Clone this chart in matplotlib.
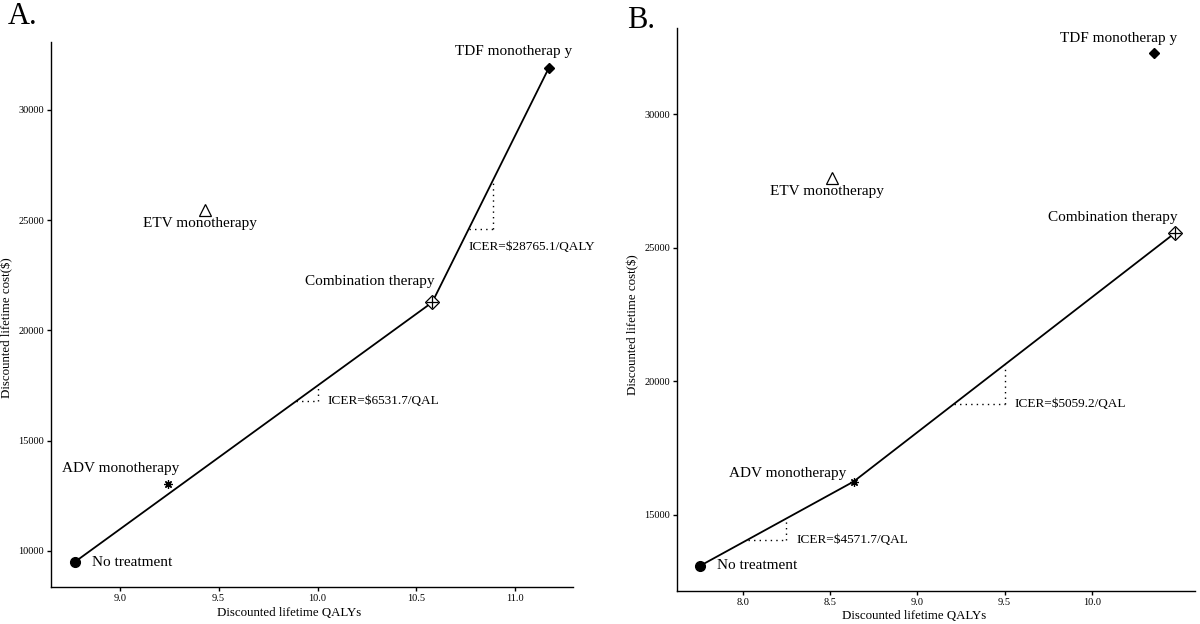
import numpy as np
import matplotlib
matplotlib.use("Agg")
import matplotlib.pyplot as plt

plt.rcParams['font.family'] = ['Liberation Serif', 'DejaVu Serif']

# strategy order: No treatment, ADV, ETV, Combination, TDF
names = ["No treatment", "ADV monotherapy", "ETV monotherapy",
         "Combination therapy", "TDF monotherap y"]

qaly_a = [8.772, 9.244, 9.429, 10.580, 11.170]
cost_a = [9500, 13050, 25450, 21270, 31900]
qaly_b = [7.757, 8.635, 8.511, 10.476, 10.354]
cost_b = [13100, 16250, 27620, 25560, 32290]

# points on the efficiency frontier (indices)
front_a = [0, 3, 4]
front_b = [0, 1, 3]

# ICER triangles: (x start, x end, label)
icer_a = [(9.893, 10.0, "ICER=$6531.7/QAL"), (10.764, 10.887, "ICER=$28765.1/QALY")]
icer_b = [(8.03, 8.25, "ICER=$4571.7/QAL"), (9.21, 9.5, "ICER=$5059.2/QAL")]

# label offsets in pixels (dx, dy, ha)
offs_a = [(17, 0, 'left'), (-47, 15, 'center'), (-5, -13, 'center'),
          (-62, 21, 'center'), (-35, 16, 'center')]
offs_b = [(17, 0, 'left'), (-66, 8, 'center'), (-5, -14, 'center'),
          (-62, 15, 'center'), (-35, 15, 'center')]


def draw_markers(ax, xs, ys):
    ax.plot(xs[0], ys[0], 'o', color='black', ms=7, zorder=4)
    ax.plot(xs[1], ys[1], marker=(8, 2, 0), color='black', ms=6, mew=0.9, ls='none', zorder=4)
    ax.plot(xs[2], ys[2], '^', mfc='none', mec='black', ms=8, mew=0.9, zorder=4)
    ax.plot(xs[3], ys[3], 'D', mfc='white', mec='black', ms=7, mew=0.9, zorder=4)
    ax.plot(xs[3], ys[3], '+', color='black', ms=9, mew=0.9, zorder=5)
    ax.plot(xs[4], ys[4], 'D', color='black', ms=5, zorder=4)


def panel(ax, xs, ys, front, icers, offs, xlim, ylim, xticks, yticks, icer_pos):
    fx = [xs[i] for i in front]
    fy = [ys[i] for i in front]
    ax.plot(fx, fy, color='black', lw=1.3, zorder=3)
    draw_markers(ax, xs, ys)
    for i, name in enumerate(names):
        dx, dy, ha = offs[i]
        ax.annotate(name, (xs[i], ys[i]), xytext=(dx * 0.72, dy * 0.72),
                    textcoords='offset points', ha=ha, va='center', fontsize=11)
    for k, (x0, x1, lab) in enumerate(icers):
        y0 = np.interp(x0, fx, fy)
        y1 = np.interp(x1, fx, fy)
        ax.plot([x0, x1], [y0, y0], color='black', ls=(0, (1, 3)), lw=1)
        ax.plot([x1, x1], [y0, y1], color='black', ls=(0, (1, 3)), lw=1)
        if icer_pos[k] == 'right':
            ax.annotate(lab, (x1, y0), xytext=(7, 0), textcoords='offset points',
                        ha='left', va='center', fontsize=9.5)
        else:
            ax.annotate(lab, (x0, y0), xytext=(0, -13), textcoords='offset points',
                        ha='left', va='center', fontsize=9.5)
    ax.set_xlim(xlim)
    ax.set_ylim(ylim)
    ax.set_xticks(xticks)
    ax.set_xticklabels(["%.1f" % t for t in xticks])
    ax.set_yticks(yticks)
    ax.set_yticklabels(["%d" % t for t in yticks])
    for s in ['top', 'right']:
        ax.spines[s].set_visible(False)
    for s in ['left', 'bottom']:
        ax.spines[s].set_linewidth(1.0)
    ax.tick_params(direction='out', length=3, width=1.0, labelsize=7.5, pad=2)


fig = plt.figure(figsize=(12, 6.24), dpi=100)
ax_a = fig.add_axes([0.0425, 0.0593, 0.435, 0.8734])
ax_b = fig.add_axes([0.5642, 0.0529, 0.4316, 0.9022])

panel(ax_a, qaly_a, cost_a, front_a, icer_a, offs_a, (8.652, 11.292), (8368, 33070),
      [9.0, 9.5, 10.0, 10.5, 11.0], [10000, 15000, 20000, 25000, 30000], ['right', 'below'])
panel(ax_b, qaly_b, cost_b, front_b, icer_b, offs_b, (7.624, 10.59), (12154, 33232),
      [8.0, 8.5, 9.0, 9.5, 10.0], [15000, 20000, 25000, 30000], ['right', 'right'])

W, H = 1200, 624
fig.text(289 / W, 1 - 612.7 / H, "Discounted lifetime QALYs", ha='center', va='center', fontsize=9.3)
fig.text(914 / W, 1 - 616 / H, "Discounted lifetime QALYs", ha='center', va='center', fontsize=9.3)
fig.text(7 / W, 1 - 328 / H, "Discounted lifetime cost($)", ha='center', va='center',
         rotation=90, fontsize=9.3)
fig.text(633 / W, 1 - 325 / H, "Discounted lifetime cost($)", ha='center', va='center',
         rotation=90, fontsize=9.3)
fig.text(8 / W, 1 - 17 / H, "A.", ha='left', va='center', fontsize=22)
fig.text(627 / W, 1 - 20 / H, "B.", ha='left', va='center', fontsize=22)

fig.savefig("out.png", dpi=100)
